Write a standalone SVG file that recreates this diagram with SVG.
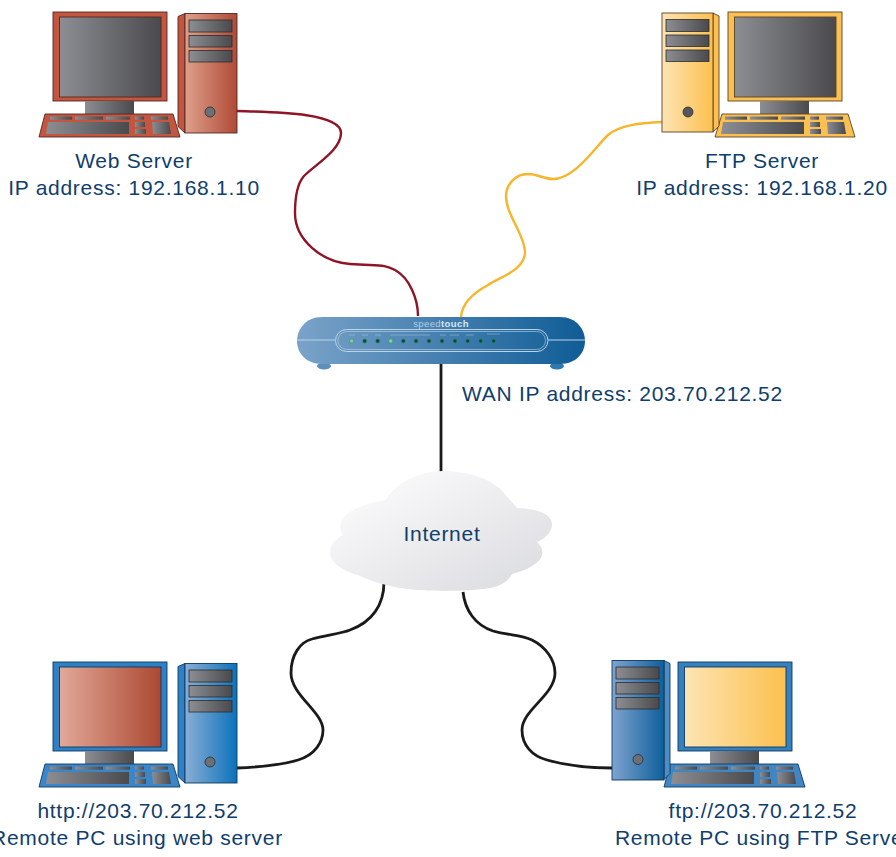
<svg xmlns="http://www.w3.org/2000/svg" xmlns:xlink="http://www.w3.org/1999/xlink" width="896" height="857" viewBox="0 0 896 857">
<style>
text{font-family:"Liberation Sans",Arial,sans-serif;font-size:21px;fill:#0f3d6c;letter-spacing:.72px;text-anchor:middle}
.wire{fill:none;stroke-linecap:butt}
.r{stroke:#8e1426;stroke-width:2.4}
.y{stroke:#f7b52c;stroke-width:2.4}
.k{stroke:#1a1a1a;stroke-width:2.8}
.redS{stroke:#4f2a24;stroke-width:.9}
.bluS{stroke:#0d3a60;stroke-width:.9}
.yelS{stroke:#57442a;stroke-width:.9}
.dark{stroke:#2c2c2c;stroke-width:.8}
.led{fill:#0a4a3a;stroke:#2f8a70;stroke-width:.6}
.ledOn{fill:#7fcf9f}
.pill{fill:none;stroke:#bcd3e6;stroke-width:1}
.mini{stroke:#a9c6dd;stroke-width:.7;opacity:.75}
</style>
<defs>
<linearGradient id="gGray"><stop offset="0" stop-color="#8c8e93"/><stop offset="1" stop-color="#4a4a4d"/></linearGradient>
<linearGradient id="gRed"><stop offset="0" stop-color="#dea08c"/><stop offset="1" stop-color="#b04a35"/></linearGradient>
<linearGradient id="gScreenRed"><stop offset="0" stop-color="#e2a998"/><stop offset="1" stop-color="#ac4832"/></linearGradient>
<linearGradient id="gYel"><stop offset="0" stop-color="#fde4b4"/><stop offset="1" stop-color="#fcc04e"/></linearGradient>
<linearGradient id="gBlue"><stop offset="0" stop-color="#8aaed6"/><stop offset="1" stop-color="#0b72ba"/></linearGradient>
<linearGradient id="gBlue2"><stop offset="0" stop-color="#7fa3cf"/><stop offset="1" stop-color="#0e5f9b"/></linearGradient>
<linearGradient id="gRouter"><stop offset="0" stop-color="#7aa3c9"/><stop offset="1" stop-color="#0f5c96"/></linearGradient>
<linearGradient id="gCloud" x1="0" y1="0" x2="1" y2="1"><stop offset="0" stop-color="#ffffff"/><stop offset="1" stop-color="#d9dade"/></linearGradient>
<g id="keys" fill="url(#gGray)">
<rect x="50" y="116.5" width="22" height="3.2"/><rect x="75" y="116.5" width="28" height="3.2"/><rect x="106" y="116.5" width="24" height="3.2"/><rect x="135" y="116.5" width="9" height="3.2"/><rect x="151" y="116.5" width="17" height="3.2"/>
<path d="M48 122H129V134H46Z"/><rect x="135" y="122" width="10" height="5"/><rect x="135" y="129" width="11" height="5"/><path d="M152 122H169L171 134H153Z"/>
</g>
<g id="bays" fill="url(#gGray)" class="dark">
<rect x="4" y="6.5" width="43" height="12"/><rect x="4" y="22" width="43" height="11.5"/><rect x="4" y="37" width="43" height="11.5"/>
</g>
</defs>
<rect width="896" height="857" fill="#fff"/>
<g id="connectors">
<path class="wire r" d="M237 111C270 112 341 112 341 133C341 150 316 164 304 176C296 185 295 200 295 213C295 240 322 262 350 264C380 266 384 264 395 270C410 278 418 300 418 316"/>
<path class="wire y" d="M662 122C640 123 620 125 608 135C596 146 575 179 553 179C543 179 538 174 528 174C515 174 506 185 506 196C506 215 525 235 525 252C525 270 500 277 488 285C475 292 462 303 461 317"/>
<path class="wire k" d="M441 364V472"/>
<path class="wire k" d="M237 768C260 767 285 764 298 760C315 755 323 742 323 730C323 712 291 695 291 673C291 655 300 642 312 639C325 635 340 634 350 630C372 622 384 605 384 582"/>
<path class="wire k" d="M463 592C465 610 475 625 493 631C510 636 520 634 532 640C546 647 555 660 555 673C555 695 522 710 522 730C522 745 532 756 547 760C565 765 590 768 612 768"/>
</g>
<g id="web-server">
<g class="redS">
<rect x="53" y="12" width="114" height="89" fill="#c4553f"/>
<rect x="59.5" y="17" width="101.5" height="80" fill="url(#gGray)"/>
<rect x="85" y="101" width="49" height="13" fill="url(#gGray)" stroke="none"/>
<path d="M45 114H173L180 137H39Z" fill="#c4553f"/>
</g>
<use xlink:href="#keys" href="#keys"/>
<g transform="translate(185 13.5)" class="redS">
<path d="M0 0L-7 3V113L0 119.500Z" fill="#c4553f"/>
<rect width="52" height="119.500" fill="url(#gRed)"/>
<use xlink:href="#bays" href="#bays"/>
<circle cx="25" cy="98.500" r="5" fill="#6b7078" class="dark"/>
</g>
<text x="134" y="168">Web Server</text>
<text x="134" y="195">IP address: 192.168.1.10</text>
</g>
<g id="ftp-server">
<g transform="translate(675 0)" class="yelS">
<rect x="53" y="12" width="114" height="89" fill="#fcc050"/>
<rect x="59.5" y="17" width="101.5" height="80" fill="url(#gGray)"/>
<rect x="85" y="101" width="49" height="13" fill="url(#gGray)" stroke="none"/>
<path d="M47 114H173L180 137H40Z" fill="#fcc050"/>
<use xlink:href="#keys" href="#keys" stroke="none"/>
</g>
<g transform="translate(662 13)" class="yelS">
<path d="M51 0L57 3V113L51 119Z" fill="#fcc050"/>
<rect width="51" height="119" fill="url(#gYel)"/>
<use xlink:href="#bays" href="#bays"/>
<circle cx="26" cy="99" r="5" fill="#55565c" class="dark"/>
</g>
<text x="762" y="168">FTP Server</text>
<text x="762" y="195">IP address: 192.168.1.20</text>
</g>
<g id="router">
<ellipse cx="324" cy="366" rx="7" ry="3.500" fill="#5d8fbc"/>
<ellipse cx="557" cy="366" rx="7" ry="3.500" fill="#2e78ad"/>
<path d="M322 317H560C577 317 585 330 585 341C585 353 576 364 560 364H322C306 364 297 353 297 341C297 330 305 317 322 317Z" fill="url(#gRouter)"/>
<rect x="335.500" y="329.500" width="212.500" height="22" rx="11" class="pill"/>
<rect x="338" y="331.500" width="207.500" height="18" rx="9" class="pill" opacity=".6"/>
<path d="M297 340H335M548 340H585" class="pill"/>
<text x="441" y="327" style="font-size:9.500px;fill:#b8cfe2;letter-spacing:.4px">speed<tspan style="font-weight:bold;fill:#dbe7f1">touch</tspan></text>
<path d="M390 335H430M349 335H355M362 335H368M375 335H381M440 335H446M450 335H459M466 335H474M487 334H500" class="mini"/>
<circle cx="351.700" cy="341" r="2.200" class="led ledOn"/><circle cx="364.700" cy="341" r="2" class="led"/><circle cx="377.700" cy="341" r="2" class="led"/><circle cx="390.700" cy="341" r="2.200" class="led ledOn"/><circle cx="403.300" cy="341" r="2" class="led"/><circle cx="416" cy="341" r="2" class="led"/><circle cx="429" cy="341" r="2" class="led"/><circle cx="442" cy="341" r="2" class="led"/><circle cx="455" cy="341" r="2" class="led"/><circle cx="467.700" cy="341" r="2" class="led"/><circle cx="480.700" cy="341" r="2" class="led"/><circle cx="493.700" cy="341" r="2" class="led"/>
</g>
<text id="wan-label" x="462" y="401" style="text-anchor:start">WAN IP address: 203.70.212.52</text>
<g id="internet">
<path d="M443 471C468 471 492 479 503 492C508 498 513 503 517 508C535 508 552 514 552 524C552 532 546 538 537 542C545 549 544 558 535 564C528 569 520 572 512 574C508 582 500 586 490 588C465 592 420 592 395 587C380 584 368 580 358 575C342 571 330 562 330 552C330 545 336 539 343 535C338 527 340 519 350 512C360 506 372 502 386 500C394 484 418 471 443 471Z" fill="url(#gCloud)"/>
<text x="442" y="541">Internet</text>
</g>
<g id="remote-web">
<g transform="translate(0 650)" class="bluS">
<rect x="53" y="12" width="114" height="89" fill="#2f80c5"/>
<rect x="59.5" y="17" width="101.5" height="80" fill="url(#gScreenRed)"/>
<rect x="85" y="101" width="49" height="13" fill="url(#gGray)" stroke="none"/>
<path d="M45 114H173L180 137H39Z" fill="#3a86c8"/>
<use xlink:href="#keys" href="#keys" stroke="none"/>
</g>
<g transform="translate(185 663.500)" class="bluS">
<path d="M0 0L-7 3V113L0 119.500Z" fill="#2f80c5"/>
<rect width="52" height="119.500" fill="url(#gBlue)"/>
<use xlink:href="#bays" href="#bays"/>
<circle cx="25" cy="98.500" r="5" fill="#6b6f76" class="dark"/>
</g>
<text x="138" y="818">http://203.70.212.52</text>
<text x="137" y="845">Remote PC using web server</text>
</g>
<g id="remote-ftp">
<g transform="translate(625 650)" class="bluS">
<rect x="53" y="12" width="114" height="89" fill="#3580bd"/>
<rect x="59.5" y="17" width="101.5" height="80" fill="url(#gYel)"/>
<rect x="85" y="101" width="49" height="13" fill="url(#gGray)" stroke="none"/>
<path d="M45 114H173L180 137H39Z" fill="#3f86c2"/>
<use xlink:href="#keys" href="#keys" stroke="none"/>
</g>
<g transform="translate(612 660.500)" class="bluS">
<path d="M52 0L58 3V113L52 119Z" fill="#4d8cc4"/>
<rect width="52" height="119.500" fill="url(#gBlue2)"/>
<use xlink:href="#bays" href="#bays"/>
<circle cx="26" cy="99" r="5" fill="#6b6f76" class="dark"/>
</g>
<text x="763" y="818">ftp://203.70.212.52</text>
<text x="763" y="845">Remote PC using FTP Server</text>
</g>
</svg>
